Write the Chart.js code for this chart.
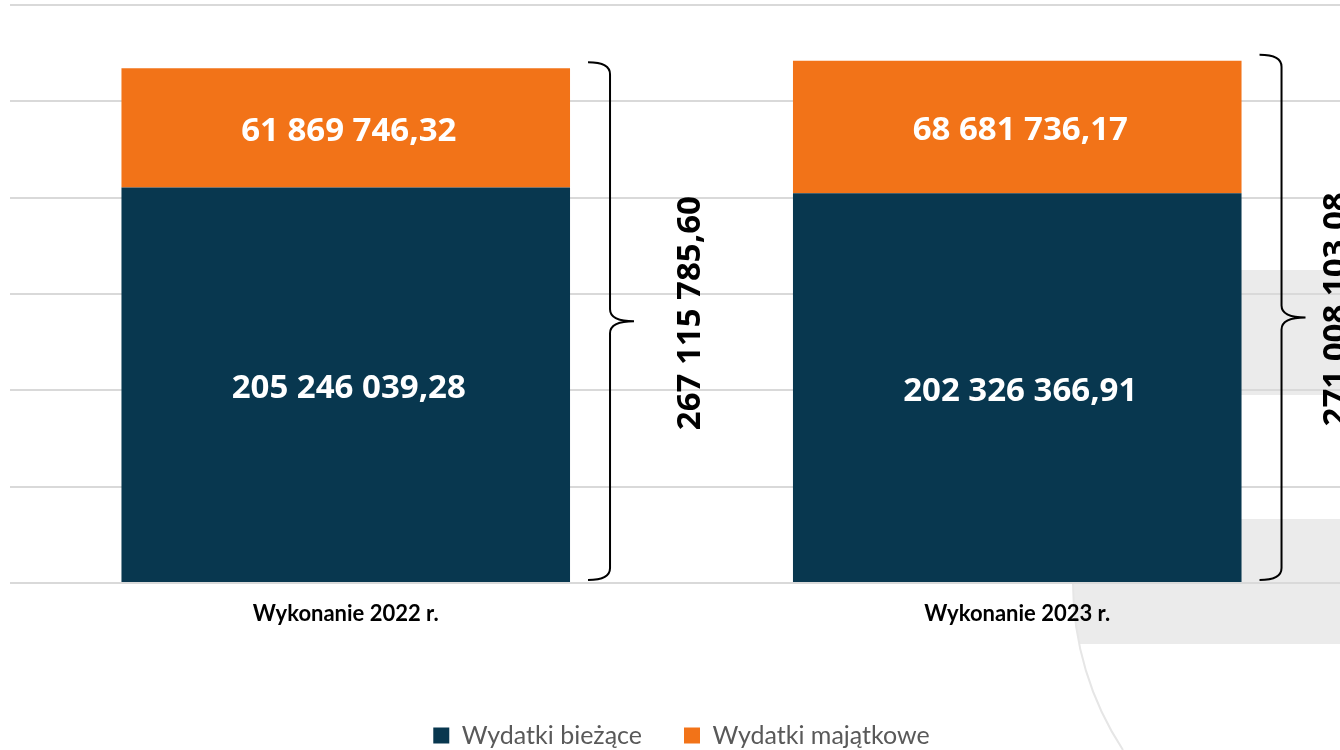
<!DOCTYPE html>
<html>
<head>
<meta charset="utf-8">
<script src="https://cdn.jsdelivr.net/npm/chart.js@4"></script>
<style>
  html, body { margin: 0; padding: 0; background: #fff; overflow: hidden; width: 1340px; height: 750px; }
  #chart { display: block; }
</style>
</head>
<body>
<canvas id="chart" width="1364" height="758"></canvas>
<script>
const categories = ["Wykonanie 2022 r.", "Wykonanie 2023 r."];
const biezace = [205246039.28, 202326366.91];
const majatkowe = [61869746.32, 68681736.17];
const seriesNames = ["Wydatki bieżące", "Wydatki majątkowe"];
const yTicks = [0, 50000000, 100000000, 150000000, 200000000, 250000000, 300000000];

const NAVY = "#08374f";
const ORANGE = "#f27318";
const totalLabelOffsets = [121, 95]; // od prawej krawędzi słupka

function fmt(v) {
  const [i, d] = v.toFixed(2).split(".");
  return i.replace(/\B(?=(\d{3})+(?!\d))/g, " ") + "," + d;
}

// tło slajdu (szare pasy + łuk)
const decorPlugin = {
  id: "decor",
  beforeDraw(chart) {
    const ctx = chart.ctx;
    ctx.save();
    ctx.fillStyle = "#ebebeb";
    ctx.fillRect(1241, 270, 120, 125);
    ctx.beginPath();
    ctx.arc(1377, 583, 304, 0, Math.PI * 2);
    ctx.clip();
    ctx.fillRect(1040, 519, 330, 125);
    ctx.restore();
    ctx.save();
    ctx.strokeStyle = "#e6e6e6";
    ctx.lineWidth = 2;
    ctx.beginPath();
    ctx.arc(1377, 583, 304, 2.56, Math.PI);
    ctx.stroke();
    ctx.restore();
  }
};

function drawBrace(ctx, x, top, bottom) {
  const xv = x + 22;
  const tip = x + 46;
  const mid = (top + bottom) / 2;
  const r = 12;
  ctx.beginPath();
  ctx.moveTo(x, top);
  ctx.quadraticCurveTo(xv, top, xv, top + r);
  ctx.lineTo(xv, mid - r);
  ctx.quadraticCurveTo(xv, mid, tip, mid);
  ctx.moveTo(tip, mid);
  ctx.quadraticCurveTo(xv, mid, xv, mid + r);
  ctx.lineTo(xv, bottom - r);
  ctx.quadraticCurveTo(xv, bottom, x, bottom);
  ctx.stroke();
}

const overlayPlugin = {
  id: "overlay",
  afterDatasetsDraw(chart) {
    const ctx = chart.ctx;
    const yScale = chart.scales.y;
    ctx.save();
    ctx.fillStyle = "#fff";
    ctx.font = "bold 33px 'Open Sans'";
    ctx.textAlign = "center";
    ctx.textBaseline = "middle";
    chart.data.datasets.forEach((ds, di) => {
      chart.getDatasetMeta(di).data.forEach((el, i) => {
        ctx.fillText(fmt(ds.data[i]), el.x + 3, (el.y + el.base) / 2 + 4);
      });
    });

    const bars = chart.getDatasetMeta(0).data;
    ctx.strokeStyle = "#000";
    ctx.lineWidth = 2;
    ctx.fillStyle = "#000";
    ctx.font = "bold 33px 'Open Sans'";
    categories.forEach((c, i) => {
      const total = biezace[i] + majatkowe[i];
      const right = bars[i].x + bars[i].width / 2;
      const top = yScale.getPixelForValue(total) - 6;
      const bottom = yScale.getPixelForValue(0) - 3;
      drawBrace(ctx, right + 18, top, bottom);
      ctx.save();
      ctx.translate(right + totalLabelOffsets[i], (top + bottom) / 2 - 8);
      ctx.rotate(-Math.PI / 2);
      ctx.fillText(fmt(total), 0, 0);
      ctx.restore();
    });
    ctx.restore();
  }
};

new Chart(document.getElementById("chart"), {
  type: "bar",
  data: {
    labels: categories,
    datasets: [
      { label: seriesNames[0], data: biezace, backgroundColor: NAVY },
      { label: seriesNames[1], data: majatkowe, backgroundColor: ORANGE }
    ]
  },
  options: {
    responsive: false,
    animation: false,
    layout: { padding: { left: 10, right: 11, top: 5, bottom: 0 } },
    datasets: { bar: { categoryPercentage: 1, barPercentage: 0.668 } },
    scales: {
      x: {
        stacked: true,
        grid: { display: false, drawTicks: false },
        border: { display: false },
        ticks: { color: "#000", font: { family: "Lato", size: 22, weight: "bold" }, padding: 18 },
        afterFit: (s) => { s.height = 98; }
      },
      y: {
        stacked: true,
        min: 0,
        max: 300000000,
        afterBuildTicks: (s) => { s.ticks = yTicks.map(v => ({ value: v })); },
        ticks: { display: false },
        grid: { color: "#d9d9d9", lineWidth: 2, drawTicks: false },
        border: { display: false },
        afterFit: (s) => { s.width = 0; }
      }
    },
    plugins: {
      legend: {
        position: "bottom",
        labels: {
          boxWidth: 16,
          boxHeight: 16,
          padding: 42,
          color: "#595959",
          font: { family: "Lato", size: 25 }
        }
      },
      tooltip: { enabled: false }
    }
  },
  plugins: [decorPlugin, overlayPlugin]
});
</script>
</body>
</html>
